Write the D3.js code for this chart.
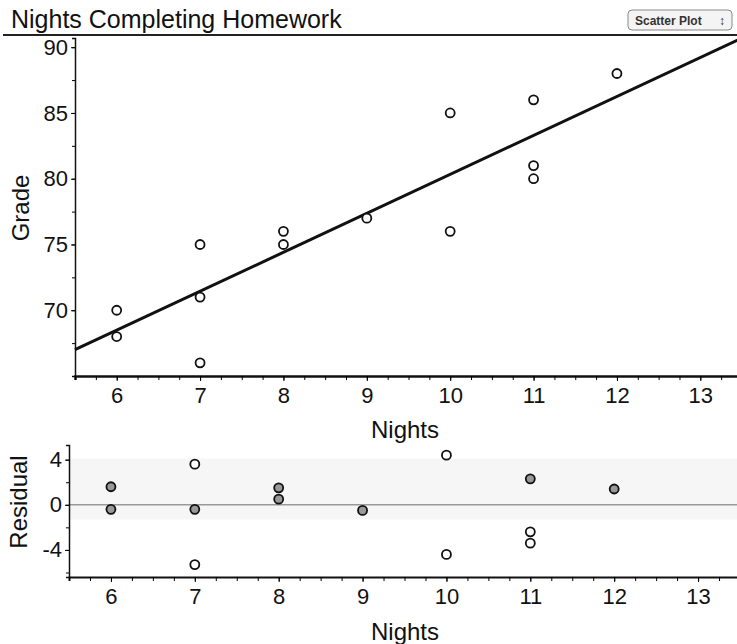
<!DOCTYPE html>
<html>
<head>
<meta charset="utf-8">
<script src="https://cdn.jsdelivr.net/npm/d3@7"></script>
<style>
  body { margin: 0; background: white; }
  svg { font-family: "Liberation Sans", Arial, sans-serif; }
  .tick text { fill: #111; }
</style>
</head>
<body>
<div id="winArea"></div>
<script>
// data
const nights = [6, 6, 7, 7, 7, 8, 8, 9, 10, 10, 11, 11, 11, 12];
const grades = [70, 68, 75, 71, 66, 76, 75, 77, 85, 76, 86, 81, 80, 88];
const residuals = [1.6, -0.4, 3.6, -0.4, -5.3, 1.5, 0.5, -0.5, 4.4, -4.4, 2.3, -2.4, -3.4, 1.4];
const fitLine = [[5.5, 67.0], [13.5, 90.7]];
const residBand = [-1.3, 4.1];

const nightTicks = [6, 7, 8, 9, 10, 11, 12, 13];
const gradeTicks = [70, 75, 80, 85, 90];
const residTicks = [-4, 0, 4];

const width = 737, height = 644;

const svg = d3.select("#winArea")
    .append("svg")
    .attr("width", width)
    .attr("height", height);

// title + rule under it
svg.append("text")
    .attr("x", 11)
    .attr("y", 28)
    .style("font-size", "25px")
    .style("fill", "#111")
    .text("Nights Completing Homework");

svg.append("line")
    .attr("x1", 3).attr("x2", width)
    .attr("y1", 35).attr("y2", 35)
    .attr("stroke", "#222")
    .attr("stroke-width", 2);

// little popup button at top right
const btn = svg.append("g").attr("transform", "translate(628, 10)");
btn.append("rect")
    .attr("width", 104).attr("height", 20)
    .attr("rx", 4)
    .attr("fill", "#f4f4f4")
    .attr("stroke", "#888");
btn.append("text")
    .attr("x", 7).attr("y", 15)
    .style("font-size", "12px")
    .style("font-weight", "bold")
    .style("fill", "#333")
    .text("Scatter Plot");
btn.append("text")
    .attr("x", 91).attr("y", 15)
    .style("font-size", "12px")
    .style("fill", "#333")
    .text("\u2195");

//---------- top scatter plot ----------
const xScale = d3.scaleLinear().domain([5.5, 13.5]).range([75, 742]);
const yScale = d3.scaleLinear().domain([65, 90.7]).range([376, 38]);

// y axis
svg.append("g")
    .attr("transform", "translate(75,0)")
    .call(d3.axisLeft(yScale).tickValues(d3.range(65, 91, 2.5)).tickSize(3).tickFormat(""))
    .call(g => g.select(".domain").attr("stroke", "#111").attr("stroke-width", 1.5));
svg.append("g")
    .attr("transform", "translate(75,0)")
    .call(d3.axisLeft(yScale).tickValues(gradeTicks).tickSize(4).tickPadding(3))
    .call(g => g.select(".domain").remove())
    .call(g => g.selectAll("text").style("font-size", "22px"));

// x axis
svg.append("g")
    .attr("transform", "translate(0,376)")
    .call(d3.axisBottom(xScale).tickValues(d3.range(5.5, 13.51, 0.25)).tickSize(4).tickFormat(""))
    .call(g => g.select(".domain").attr("stroke", "#111").attr("stroke-width", 2.5));
svg.append("g")
    .attr("transform", "translate(0,376)")
    .call(d3.axisBottom(xScale).tickValues(nightTicks).tickSize(5).tickPadding(6))
    .call(g => g.select(".domain").remove())
    .call(g => g.selectAll("text").style("font-size", "22px"));

svg.append("text")
    .attr("x", 405)
    .attr("y", 438)
    .attr("text-anchor", "middle")
    .style("font-size", "24px")
    .style("fill", "#111")
    .text("Nights");

svg.append("text")
    .attr("transform", "translate(29, 208) rotate(-90)")
    .attr("text-anchor", "middle")
    .style("font-size", "24px")
    .style("fill", "#111")
    .text("Grade");

// least squares line
svg.append("line")
    .attr("x1", xScale(fitLine[0][0]))
    .attr("y1", yScale(fitLine[0][1]))
    .attr("x2", xScale(fitLine[1][0]))
    .attr("y2", yScale(fitLine[1][1]))
    .attr("stroke", "#111")
    .attr("stroke-width", 3);

svg.append("g")
    .selectAll("circle")
    .data(nights)
    .join("circle")
    .attr("cx", d => xScale(d))
    .attr("cy", (d, i) => yScale(grades[i]))
    .attr("r", 4.5)
    .attr("fill", "white")
    .attr("stroke", "#111")
    .attr("stroke-width", 1.8);

//---------- residual plot ----------
const xScale2 = d3.scaleLinear().domain([5.5, 13.5]).range([69, 740]);
const rScale = d3.scaleLinear().domain([-6.4, 5.3]).range([577, 445]);

svg.append("rect")
    .attr("x", 70)
    .attr("y", rScale(residBand[1]))
    .attr("width", width - 70)
    .attr("height", rScale(residBand[0]) - rScale(residBand[1]))
    .attr("fill", "#f6f6f6");

svg.append("line")
    .attr("x1", 69).attr("x2", width)
    .attr("y1", rScale(0)).attr("y2", rScale(0))
    .attr("stroke", "#999")
    .attr("stroke-width", 1.5);

svg.append("g")
    .attr("transform", "translate(69,0)")
    .call(d3.axisLeft(rScale).tickValues([-6, -4, -2, 0, 2, 4]).tickSize(3).tickFormat(""))
    .call(g => g.select(".domain").attr("stroke", "#111").attr("stroke-width", 1.5));
svg.append("g")
    .attr("transform", "translate(69,0)")
    .call(d3.axisLeft(rScale).tickValues(residTicks).tickSize(4).tickPadding(3).tickFormat(d => String(d)))
    .call(g => g.select(".domain").remove())
    .call(g => g.selectAll("text").style("font-size", "22px"));

svg.append("g")
    .attr("transform", "translate(0,577)")
    .call(d3.axisBottom(xScale2).tickValues(d3.range(5.5, 13.51, 0.25)).tickSize(4).tickFormat(""))
    .call(g => g.select(".domain").attr("stroke", "#111").attr("stroke-width", 2));
svg.append("g")
    .attr("transform", "translate(0,577)")
    .call(d3.axisBottom(xScale2).tickValues(nightTicks).tickSize(5).tickPadding(6))
    .call(g => g.select(".domain").remove())
    .call(g => g.selectAll("text").style("font-size", "22px"));

svg.append("text")
    .attr("x", 405)
    .attr("y", 640)
    .attr("text-anchor", "middle")
    .style("font-size", "24px")
    .style("fill", "#111")
    .text("Nights");

svg.append("text")
    .attr("transform", "translate(27, 502) rotate(-90)")
    .attr("text-anchor", "middle")
    .style("font-size", "24px")
    .style("fill", "#111")
    .text("Residual");

svg.append("g")
    .selectAll("circle")
    .data(nights)
    .join("circle")
    .attr("cx", d => xScale2(d))
    .attr("cy", (d, i) => rScale(residuals[i]))
    .attr("r", 4.5)
    .attr("fill", (d, i) => (residuals[i] > -2 && residuals[i] < 3) ? "#999" : "white")
    .attr("stroke", "#111")
    .attr("stroke-width", 1.8);
</script>
</body>
</html>
